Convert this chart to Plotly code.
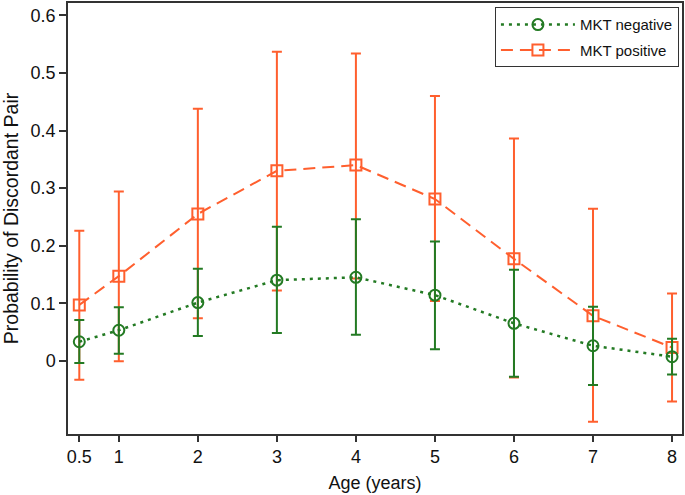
import plotly.graph_objects as go

ages = [0.5, 1, 2, 3, 4, 5, 6, 7, 8]
x_tick_labels = ["0.5", "1", "2", "3", "4", "5", "6", "7", "8"]
y_tick_vals = [0, 0.1, 0.2, 0.3, 0.4, 0.5, 0.6]
y_tick_labels = ["0", "0.1", "0.2", "0.3", "0.4", "0.5", "0.6"]

neg_est = [0.033, 0.053, 0.101, 0.140, 0.145, 0.114, 0.065, 0.026, 0.007]
neg_upper = [0.071, 0.093, 0.160, 0.233, 0.246, 0.207, 0.158, 0.094, 0.038]
neg_lower = [-0.004, 0.012, 0.043, 0.048, 0.045, 0.020, -0.028, -0.042, -0.024]

pos_est = [0.097, 0.147, 0.255, 0.330, 0.340, 0.281, 0.177, 0.078, 0.023]
pos_upper = [0.226, 0.294, 0.438, 0.537, 0.534, 0.460, 0.386, 0.264, 0.117]
pos_lower = [-0.033, -0.001, 0.074, 0.122, 0.143, 0.104, -0.029, -0.106, -0.071]

ORANGE = "#FF5F2E"
GREEN = "#237A23"

fig = go.Figure()

fig.add_trace(go.Scatter(
    x=ages, y=pos_est, name="MKT positive", mode="lines+markers",
    legendrank=2, legendgroup="pos",
    line=dict(color=ORANGE, width=2, dash="12px,7px"),
    marker=dict(symbol="square-open", size=11, color=ORANGE, line=dict(width=2, color=ORANGE)),
    error_y=dict(type="data", symmetric=False,
                 array=[u - e for u, e in zip(pos_upper, pos_est)],
                 arrayminus=[e - l for e, l in zip(pos_est, pos_lower)],
                 color=ORANGE, thickness=2, width=5),
))

fig.add_trace(go.Scatter(
    x=ages, y=neg_est, name="MKT negative", mode="lines+markers",
    legendrank=1, legendgroup="neg",
    line=dict(color=GREEN, width=2.5, dash="3px,5px"),
    marker=dict(symbol="circle-open", size=11, color=GREEN, line=dict(width=2, color=GREEN)),
    error_y=dict(type="data", symmetric=False,
                 array=[u - e for u, e in zip(neg_upper, neg_est)],
                 arrayminus=[e - l for e, l in zip(neg_est, neg_lower)],
                 color=GREEN, thickness=2, width=5),
))

axis_font = dict(family="Liberation Sans, Arial, sans-serif", size=18, color="#111")
ytitle_font = dict(family="Liberation Sans, Arial, sans-serif", size=19.5, color="#111")

fig.update_layout(
    width=685, height=495,
    margin=dict(l=68, r=2, t=1, b=61),
    paper_bgcolor="white", plot_bgcolor="white",
    font=axis_font,
    showlegend=True,
    legend=dict(
        x=0.995, y=0.99, xanchor="right", yanchor="top",
        bordercolor="#333", borderwidth=1, bgcolor="white",
        font=dict(family="Liberation Sans, Arial, sans-serif", size=15, color="#111"),
        itemwidth=74, tracegroupgap=3,
    ),
    xaxis=dict(
        range=[0.357, 8.126], tickvals=ages, ticktext=x_tick_labels,
        showgrid=False, zeroline=False,
        showline=True, mirror=True, linecolor="#333", linewidth=1.5,
        ticks="outside", ticklen=6, tickcolor="#333", tickwidth=1.5,
        tickfont=axis_font,
        title=dict(text="Age (years)", font=axis_font, standoff=10),
    ),
    yaxis=dict(
        range=[-0.1273, 0.6216], tickvals=y_tick_vals, ticktext=y_tick_labels,
        showgrid=False, zeroline=False,
        showline=True, mirror=True, linecolor="#333", linewidth=1.5,
        ticks="outside", ticklen=7, tickcolor="#333", tickwidth=1.5,
        tickfont=axis_font,
        title=dict(text="Probability of Discordant Pair", font=ytitle_font, standoff=7),
    ),
)

fig.write_html("out.html", config={"displayModeBar": False},
               post_script="document.body.style.margin='0';")
